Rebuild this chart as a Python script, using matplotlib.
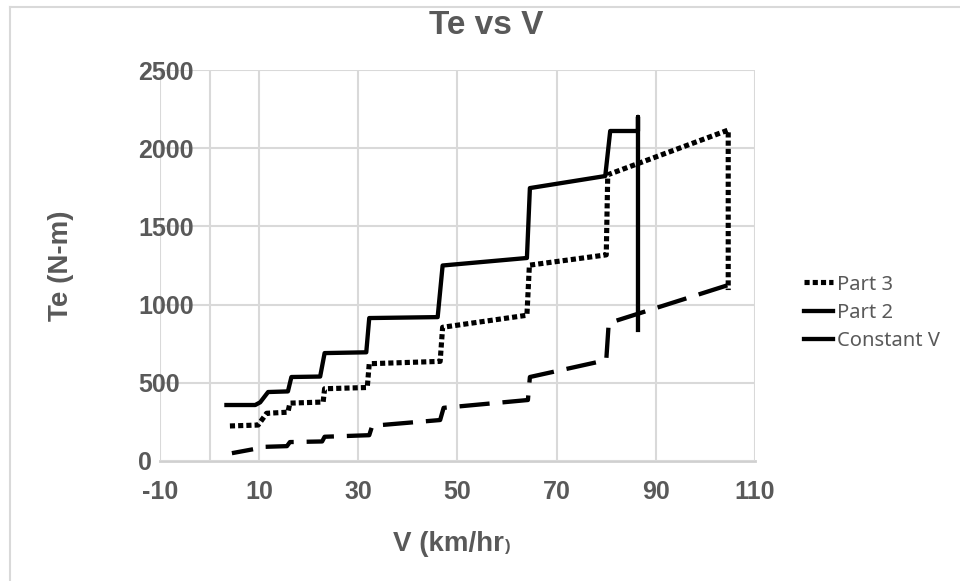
import matplotlib.pyplot as plt
from matplotlib.lines import Line2D
import numpy as np

plt.rcParams['axes.unicode_minus'] = False

# data
v_part3 = [4.1, 9.8, 11.5, 15.8, 16.2, 22.9, 23.2, 31.8, 32.2, 46.5, 47.0, 64.0, 64.5, 80.0, 80.3, 104.6, 104.6]
te_part3 = [224, 230, 305, 312, 370, 377, 462, 470, 622, 637, 855, 932, 1252, 1318, 1830, 2116, 1093]

v_part2 = [4.5, 9.6, 10.5, 15.6, 16.2, 22.7, 23.2, 32.2, 32.8, 46.5, 47.2, 64.2, 64.6, 80.0, 80.5, 104.6]
te_part2 = [50, 80, 90, 95, 121, 125, 155, 165, 225, 262, 340, 390, 537, 645, 882, 1125]

v_const = [3.4, 9.2, 10.2, 11.8, 15.8, 16.5, 22.3, 23.2, 31.6, 32.2, 46.0, 47.0, 64.0, 64.6, 79.8, 80.8, 86.4, 86.4, 86.4]
te_const = [358, 358, 375, 441, 445, 537, 540, 690, 695, 914, 920, 1250, 1298, 1745, 1822, 2110, 2110, 2200, 838]

x_ticks = [-10, 10, 30, 50, 70, 90, 110]
y_ticks = [0, 500, 1000, 1500, 2000, 2500]

grey = '#595959'
grid = '#d9d9d9'

dot_style = (0, (1.0, 0.6))
dash_style = (2, (7, 3))

fig = plt.figure(figsize=(9.6, 5.81), dpi=100)
ax = fig.add_axes([160/960, 1-461/581, (755-160)/960, (461-70)/581])

ax.plot(v_part3, te_part3, color='black', lw=3.7, linestyle=dot_style,
        dash_capstyle='butt', label='Part 3', zorder=3)
ax.plot(v_part2, te_part2, color='black', lw=3.1, linestyle=dash_style,
        label='Part 2', zorder=3)
ax.plot(v_const, te_const, color='black', lw=3.1, label='Constant V', zorder=3)

ax.set_xlim(-10, 110)
ax.set_ylim(0, 2500)
ax.set_xticks(x_ticks)
ax.set_yticks(y_ticks)
ax.grid(True, color=grid, lw=1.5, zorder=0)
ax.axvline(0, color=grid, lw=1.5, zorder=1)
for s in ax.spines.values():
    s.set_visible(False)
ax.axhline(0, color='#d0d0d0', lw=2, zorder=1, clip_on=False)

ax.tick_params(length=0)
ax.tick_params(axis='x', pad=14)
ax.tick_params(axis='y', pad=15.8)
for lab in ax.get_xticklabels() + ax.get_yticklabels():
    lab.set_fontfamily('Liberation Sans')
    lab.set_fontweight('bold')
    lab.set_fontsize(18)
    lab.set_color(grey)
for lab in ax.get_yticklabels():
    lab.set_horizontalalignment('left')

fig.text(486/960, 1-25/581, 'Te vs V', ha='center', va='center',
         fontsize=24, fontweight='bold', color=grey, family='Liberation Sans')
fig.text(61/960, 1-266/581, 'Te (N-m)', ha='center', va='center', rotation=90,
         fontsize=20, fontweight='bold', color=grey, family='Liberation Sans')

xl = fig.text(393/960, 1-551/581, 'V (km/hr', ha='left', va='baseline',
              fontsize=20, fontweight='bold', color=grey, family='Liberation Sans')
fig.canvas.draw()
bb = xl.get_window_extent()
fig.text(bb.x1/960 + 1/960, 1-551/581, ')', ha='left', va='baseline',
         fontsize=12, fontweight='bold', color=grey, family='Liberation Sans')

handles = [Line2D([], [], color='black', lw=3.7, linestyle=dot_style, dash_capstyle='butt'),
           Line2D([], [], color='black', lw=3.1),
           Line2D([], [], color='black', lw=3.1)]
leg = fig.legend(handles, ['Part 3', 'Part 2', 'Constant V'], loc='center left',
                 bbox_to_anchor=(804/960, 1-313/581), frameon=False,
                 prop={'family': 'Noto Sans', 'size': 14.5}, handlelength=1.45,
                 handletextpad=0.2, labelspacing=0.42, borderpad=0, borderaxespad=0)
for t in leg.get_texts():
    t.set_color(grey)

# chart border (only top/left visible in the crop)
fig.add_artist(Line2D([10/960, 1], [1-6.5/581, 1-6.5/581], transform=fig.transFigure, color=grid, lw=1.5))
fig.add_artist(Line2D([10/960, 10/960], [0, 1-6.5/581], transform=fig.transFigure, color=grid, lw=1.5))

fig.savefig('out.png', dpi=100)
